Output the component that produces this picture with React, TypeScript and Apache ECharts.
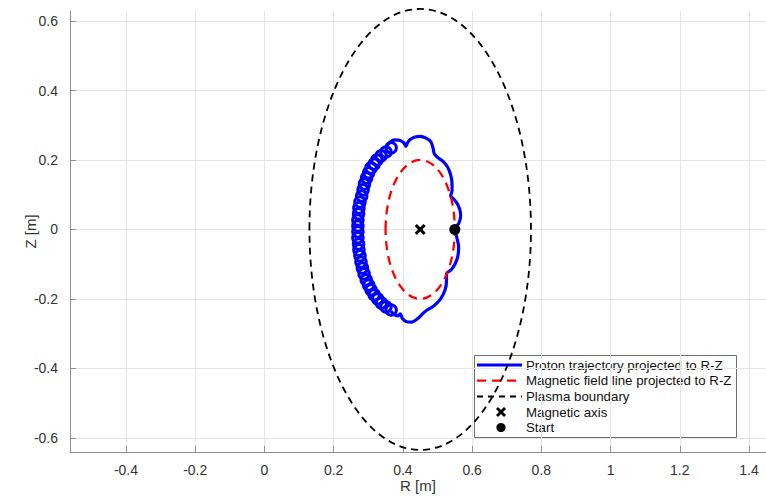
import React, { useEffect, useRef } from "react";
import * as echarts from "echarts";

// Axis extents (axis equal, tight)
const R_RANGE = [-0.5617, 1.449];
const Z_RANGE = [-0.641, 0.629];

// Proton trajectory (outer, scalloped part) [R, Z]
const protonOutline: [number, number][] = [
  [0.354, 0.24], [0.363, 0.252], [0.377, 0.258], [0.392, 0.256], [0.403, 0.249],
  [0.409, 0.239], [0.413, 0.249], [0.421, 0.259], [0.435, 0.266], [0.45, 0.268],
  [0.467, 0.263], [0.481, 0.252], [0.487, 0.235], [0.491, 0.217], [0.502, 0.206],
  [0.516, 0.196], [0.529, 0.18], [0.538, 0.157], [0.542, 0.131], [0.542, 0.111],
  [0.538, 0.096], [0.545, 0.089], [0.556, 0.076], [0.564, 0.059], [0.567, 0.039],
  [0.562, 0.019], [0.551, 0.0], [0.556, -0.024], [0.561, -0.05], [0.559, -0.076],
  [0.551, -0.099], [0.539, -0.117], [0.526, -0.127], [0.526, -0.148], [0.522, -0.174],
  [0.509, -0.2], [0.49, -0.22], [0.47, -0.232], [0.458, -0.242], [0.444, -0.256],
  [0.426, -0.267], [0.411, -0.266], [0.398, -0.256], [0.393, -0.243], [0.386, -0.249],
  [0.374, -0.245], [0.366, -0.235],
];

// Proton trajectory: centres of the small gyro loops on the inner side [R, Z]
const protonLoops: [number, number][] = [
  [0.366, 0.235], [0.351, 0.223], [0.337, 0.212], [0.325, 0.2], [0.317, 0.188],
  [0.308, 0.177], [0.301, 0.163], [0.295, 0.148], [0.289, 0.131], [0.285, 0.114],
  [0.281, 0.096], [0.276, 0.079], [0.273, 0.062], [0.272, 0.045], [0.27, 0.027],
  [0.27, 0.01], [0.27, -0.007], [0.27, -0.024], [0.272, -0.042], [0.273, -0.059],
  [0.276, -0.076], [0.279, -0.094], [0.283, -0.111], [0.288, -0.128], [0.294, -0.145],
  [0.301, -0.16], [0.308, -0.174], [0.317, -0.188], [0.327, -0.2], [0.338, -0.212],
  [0.351, -0.223], [0.366, -0.232],
];

// Ellipses: [centre R, centre Z, half-width R, half-height Z]
const fieldLine = [[0.45, 0, 0.1, 0.2]];
const plasmaBoundary = [[0.45, 0, 0.32, 0.635]];
const magneticAxis = [[0.45, 0]];
const startPoint = [[0.55, 0]];

const legendLabels = [
  "Proton trajectory projected to R-Z",
  "Magnetic field line projected to R-Z",
  "Plasma boundary",
  "Magnetic axis",
  "Start",
];

const FONT = "'Liberation Sans', Arial, sans-serif";
const BLUE = "#0000ff";
const RED = "#ff0000";

const ellipseRenderer =
  (stroke: string, lineWidth: number, lineDash: number[]) =>
  (_params: any, api: any) => {
    const c = api.coord([api.value(0), api.value(1)]);
    const s = api.size([api.value(2), api.value(3)]);
    return {
      type: "ellipse",
      shape: { cx: c[0], cy: c[1], rx: s[0], ry: s[1] },
      style: { fill: "none", stroke, lineWidth, lineDash },
    };
  };

const X_PATH = "path://M0,2 L2,0 L5,3 L8,0 L10,2 L7,5 L10,8 L8,10 L5,7 L2,10 L0,8 L3,5 Z";

export default function App() {
  const ref = useRef<HTMLDivElement>(null);
  useEffect(() => {
    if (!ref.current) return;
    const chart = echarts.init(ref.current, null, { renderer: "svg" });

    const axisCommon = {
      type: "value" as const,
      minInterval: 0.2,
      maxInterval: 0.2,
      axisLine: { show: true, onZero: false, lineStyle: { color: "#8f8f8f", width: 1 } },
      axisTick: { show: true, inside: true, length: 6, lineStyle: { color: "#8f8f8f" } },
      splitLine: {
        show: true,
        showMinLine: false,
        showMaxLine: false,
        lineStyle: { color: "#e4e4e4", width: 1 },
      },
      nameLocation: "middle" as const,
      nameMoveOverlap: false,
      nameTextStyle: { fontSize: 15, color: "#333", fontFamily: FONT },
    };

    const rowsY = [365, 380.7, 396.5, 412, 427.5];
    const lx1 = 477;
    const lx2 = 522;
    const legendChildren: any[] = [
      {
        type: "rect",
        shape: { x: 474.5, y: 355.5, width: 262, height: 82 },
        style: { fill: "#fff", stroke: "#6e6e6e", lineWidth: 1 },
      },
      {
        type: "line",
        shape: { x1: lx1, y1: rowsY[0], x2: lx2, y2: rowsY[0] },
        style: { stroke: BLUE, lineWidth: 3 },
      },
      {
        type: "line",
        shape: { x1: lx1, y1: rowsY[1], x2: lx2, y2: rowsY[1] },
        style: { stroke: RED, lineWidth: 2.3, lineDash: [9, 6] },
      },
      {
        type: "line",
        shape: { x1: lx1, y1: rowsY[2], x2: lx2, y2: rowsY[2] },
        style: { stroke: "#000", lineWidth: 1.8, lineDash: [6, 5] },
      },
      {
        type: "line",
        shape: { x1: 497, y1: rowsY[3] - 4, x2: 505, y2: rowsY[3] + 4 },
        style: { stroke: "#000", lineWidth: 2.8 },
      },
      {
        type: "line",
        shape: { x1: 497, y1: rowsY[3] + 4, x2: 505, y2: rowsY[3] - 4 },
        style: { stroke: "#000", lineWidth: 2.8 },
      },
      {
        type: "circle",
        shape: { cx: 501, cy: rowsY[4], r: 4.6 },
        style: { fill: "#000" },
      },
      ...legendLabels.map((t, i) => ({
        type: "text",
        x: 526,
        y: rowsY[i],
        style: {
          text: t,
          font: `13.3px ${FONT}`,
          fill: "#111",
          verticalAlign: "middle",
          align: "left",
        },
      })),
    ];

    chart.setOption({
      animation: false,
      backgroundColor: "#fff",
      grid: {
        left: 70,
        right: 0,
        top: 11,
        bottom: 44,
        containLabel: false,
        outerBoundsMode: "none",
      },
      xAxis: {
        ...axisCommon,
        min: R_RANGE[0],
        max: R_RANGE[1],
        splitNumber: 10,
        name: "R [m]",
        nameGap: 26,
        axisLabel: {
          margin: 11,
          fontSize: 14,
          color: "#333",
          fontFamily: FONT,
          showMinLabel: false,
          showMaxLabel: false,
        },
      },
      yAxis: {
        ...axisCommon,
        min: Z_RANGE[0],
        max: Z_RANGE[1],
        splitNumber: 6,
        name: "Z [m]",
        nameGap: 32,
        axisLabel: {
          margin: 12,
          fontSize: 14,
          color: "#333",
          fontFamily: FONT,
          showMinLabel: false,
          showMaxLabel: false,
        },
      },
      series: [
        {
          name: legendLabels[0],
          type: "line",
          data: protonOutline,
          showSymbol: false,
          symbol: "none",
          smooth: 0.25,
          lineStyle: { color: BLUE, width: 3.2 },
          z: 2,
        },
        {
          name: legendLabels[0] + " loops",
          type: "scatter",
          data: protonLoops,
          symbol: "circle",
          symbolSize: 10.5,
          itemStyle: { color: "transparent", borderColor: BLUE, borderWidth: 3, opacity: 1 },
          z: 2,
        },
        {
          name: legendLabels[1],
          type: "custom",
          renderItem: ellipseRenderer(RED, 2.3, [9, 6]),
          data: fieldLine,
          encode: { x: 0, y: 1 },
          clip: false,
          z: 3,
        },
        {
          name: legendLabels[2],
          type: "custom",
          renderItem: ellipseRenderer("#000", 1.8, [7, 5]),
          data: plasmaBoundary,
          encode: { x: 0, y: 1 },
          clip: false,
          z: 3,
        },
        {
          name: legendLabels[3],
          type: "scatter",
          data: magneticAxis,
          symbol: X_PATH,
          symbolSize: 11,
          itemStyle: { color: "#000", opacity: 1 },
          z: 4,
        },
        {
          name: legendLabels[4],
          type: "scatter",
          data: startPoint,
          symbol: "circle",
          symbolSize: 11,
          itemStyle: { color: "#000", opacity: 1 },
          z: 4,
        },
      ],
      graphic: [{ type: "group", children: legendChildren, z: 100 }],
    });
    return () => chart.dispose();
  }, []);

  return (
    <div
      ref={ref}
      style={{ position: "fixed", left: 0, top: 0, width: 766, height: 496 }}
    />
  );
}
